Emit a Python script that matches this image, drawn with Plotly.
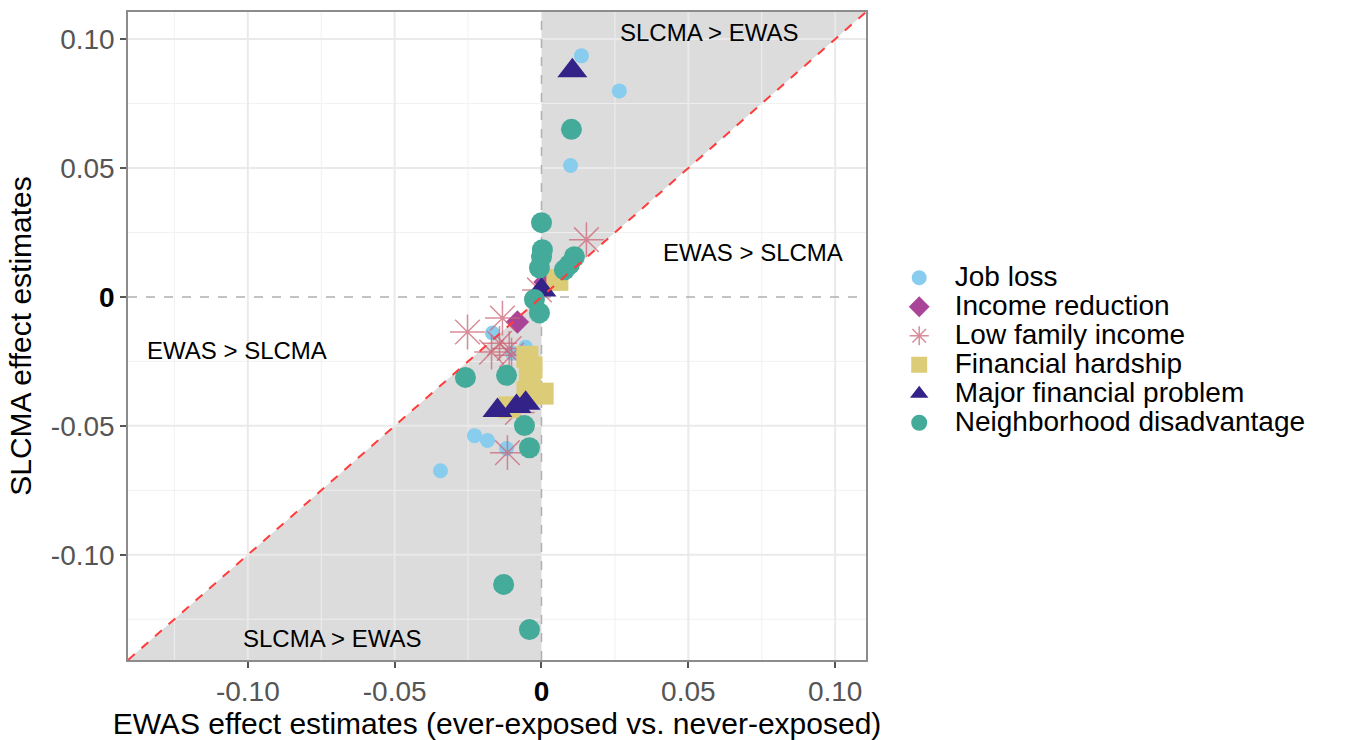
import plotly.graph_objects as go

# ---- data ----
categories = ["Job loss", "Income reduction", "Low family income",
              "Financial hardship", "Major financial problem", "Neighborhood disadvantage"]

job_x = [0.0136, 0.0265, 0.0099, -0.0344, -0.0228, -0.0184, -0.0167, -0.0116, -0.0054, -0.0099, -0.0119]
job_y = [0.0935, 0.0799, 0.051, -0.0674, -0.0538, -0.0557, -0.014, -0.0292, -0.0195, -0.0218, -0.0588]

inc_x = [-0.0082, 0.0012]
inc_y = [-0.0097, 0.0058]

low_x = [0.0153, -0.0007, -0.0252, -0.0133, -0.017, -0.0143, -0.0102, -0.0082, -0.0116, -0.011]
low_y = [0.0222, 0.0027, -0.0136, -0.0082, -0.0214, -0.018, -0.0226, -0.0448, -0.0604, -0.020]

fin_x = [0.0054, -0.0048, -0.0034, -0.0040, -0.0048, 0.0004, -0.0109]
fin_y = [0.0066, -0.0232, -0.0273, -0.0290, -0.0370, -0.0375, -0.0428]

maj_x = [0.0105, 0.0, -0.0150, -0.0054, -0.0085]
maj_y = [0.0877, 0.0027, -0.0440, -0.0412, -0.0425]

nb_x = [0.0102, 0.0, 0.0003, 0.0, -0.0007, 0.0112, 0.0095, 0.0078, -0.0024, -0.0007,
        -0.0259, -0.0119, -0.0058, -0.0041, -0.0129, -0.0041]
nb_y = [0.065, 0.0288, 0.0183, 0.0156, 0.0113, 0.0156, 0.0125, 0.0105, -0.001, -0.0062,
        -0.0312, -0.0304, -0.0499, -0.0585, -0.1115, -0.129]

tick_vals = [-0.10, -0.05, 0.0, 0.05, 0.10]
tick_text = ["-0.10", "-0.05", "<b><span style='color:black'>0</span></b>", "0.05", "0.10"]
minor_vals = [-0.125, -0.075, -0.025, 0.025, 0.075]
lo, hi = -0.1408, 0.1105

FONT = "Liberation Sans, Arial, Helvetica, sans-serif"

fig = go.Figure()

series = [
    (job_x, job_y, "circle", 15, "#88CCEE", None),
    (inc_x, inc_y, "diamond", 18, "#AA4499", None),
    (low_x, low_y, "asterisk-open", 29, "rgba(204,102,119,0.75)", 1.5),
    (fin_x, fin_y, "square", 22, "#DDCC77", None),
    (maj_x, maj_y, "triangle-up", 26, "#332288", None),
    (nb_x, nb_y, "circle", 21, "#44AA99", None),
]
for (xs, ys, sym, sz, col, lw), name in zip(series, categories):
    marker = dict(symbol=sym, size=sz, color=col)
    if lw:
        marker["line"] = dict(color=col, width=lw)
    else:
        marker["line"] = dict(width=0)
    label = "<span style='font-size:28px'>&nbsp;&nbsp;" + name + "</span>"
    fig.add_trace(go.Scatter(x=xs, y=ys, mode="markers", name=label, marker=marker))

shapes = []
# shaded regions
shapes.append(dict(type="path", path=f"M 0 0 L 0 {hi} L {hi} {hi} Z",
                   fillcolor="#DCDCDC", line=dict(width=0), layer="below"))
shapes.append(dict(type="path", path=f"M 0 0 L 0 {lo} L {lo} {lo} Z",
                   fillcolor="#DCDCDC", line=dict(width=0), layer="below"))
# grid lines (drawn over shading)
for v in minor_vals:
    shapes.append(dict(type="line", x0=v, x1=v, y0=lo, y1=hi, line=dict(color="rgba(240,240,240,0.9)", width=1), layer="below"))
    shapes.append(dict(type="line", y0=v, y1=v, x0=lo, x1=hi, line=dict(color="rgba(240,240,240,0.9)", width=1), layer="below"))
for v in tick_vals:
    if v == 0:
        continue
    shapes.append(dict(type="line", x0=v, x1=v, y0=lo, y1=hi, line=dict(color="rgba(233,233,233,0.95)", width=2), layer="below"))
    shapes.append(dict(type="line", y0=v, y1=v, x0=lo, x1=hi, line=dict(color="rgba(233,233,233,0.95)", width=2), layer="below"))
# zero dashed lines
shapes.append(dict(type="line", x0=0, x1=0, y0=lo, y1=hi, line=dict(color="#B0B0B0", width=1.5, dash="dash"), layer="below"))
shapes.append(dict(type="line", y0=0, y1=0, x0=lo, x1=hi, line=dict(color="#B0B0B0", width=1.5, dash="dash"), layer="below"))
# identity line
shapes.append(dict(type="line", x0=lo, y0=lo, x1=hi, y1=hi, line=dict(color="#FF3B3B", width=2, dash="dash"), layer="above"))

ann_font = dict(family=FONT, size=24, color="black")
annotations = [
    dict(x=0.0571, y=0.1025, text="SLCMA > EWAS", showarrow=False, font=ann_font),
    dict(x=0.0721, y=0.0171, text="EWAS > SLCMA", showarrow=False, font=ann_font),
    dict(x=-0.1037, y=-0.0207, text="EWAS > SLCMA", showarrow=False, font=ann_font),
    dict(x=-0.0711, y=-0.1325, text="SLCMA > EWAS", showarrow=False, font=ann_font),
]

axis_common = dict(
    range=[lo, hi], tickmode="array", tickvals=tick_vals, ticktext=tick_text,
    showgrid=False, zeroline=False, showline=True, mirror=True, automargin=False,
    linecolor="#8C8C8C", linewidth=1.5, ticks="outside", ticklen=6, tickwidth=1.5,
    tickcolor="#555555", tickfont=dict(family=FONT, size=28, color="#555555"),
)

fig.update_layout(
    width=1347, height=740,
    margin=dict(l=128, r=481, t=12, b=80),
    paper_bgcolor="white", plot_bgcolor="white",
    shapes=shapes, annotations=annotations,
    xaxis=dict(**axis_common, title=dict(text="EWAS effect estimates (ever-exposed vs. never-exposed)",
                                         font=dict(family=FONT, size=30, color="black"),
                                         standoff=4)),
    yaxis=dict(**axis_common, title=dict(text="SLCMA effect estimates",
                                         font=dict(family=FONT, size=30, color="black"),
                                         standoff=10)),
    legend=dict(x=1.045, xanchor="left", y=0.478, yanchor="middle",
                font=dict(family=FONT, size=20, color="black"),
                tracegroupgap=0, itemsizing="trace", bgcolor="rgba(0,0,0,0)"),
    showlegend=True,
)

fig.write_html("out.html")
